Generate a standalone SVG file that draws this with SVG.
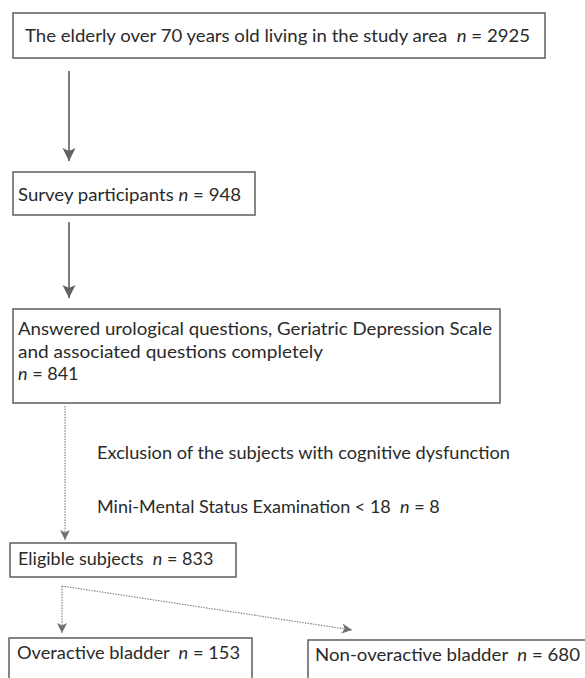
<svg xmlns="http://www.w3.org/2000/svg" width="585" height="678" viewBox="0 0 585 678">
<style>
  .box { fill: #ffffff; stroke: #5e5e5e; stroke-width: 1.5; }
  .t { font-family: Lato, "Open Sans", "Liberation Sans", sans-serif; font-size: 18px; fill: #2a2a2a; }
  .i { font-style: italic; }
  .solid { stroke: #666666; stroke-width: 1.7; fill: none; }
  .dot { stroke: #7e7e7e; stroke-width: 1.1; stroke-dasharray: 1.5 1.2; fill: none; }
</style>
<defs>
  <marker id="headBig" markerUnits="userSpaceOnUse" markerWidth="14" markerHeight="16" refX="13" refY="6.5" orient="auto">
    <path d="M0,0 L13,6.5 L0,13 L3,6.5 Z" fill="#626262"/>
  </marker>
  <marker id="headSmall" markerUnits="userSpaceOnUse" markerWidth="12" markerHeight="12" refX="10" refY="5" orient="auto">
    <path d="M0,0 L10,5 L0,10 L2.5,5 Z" fill="#707070"/>
  </marker>
</defs>
<rect width="585" height="678" fill="#ffffff"/>

<g id="connectors">
  <line class="solid" x1="69" y1="71" x2="69" y2="161" marker-end="url(#headBig)"/>
  <line class="solid" x1="69" y1="222" x2="69" y2="298" marker-end="url(#headBig)"/>
  <line class="dot" x1="65" y1="406" x2="65" y2="540" marker-end="url(#headSmall)"/>
  <line class="dot" x1="62" y1="586" x2="62" y2="633" marker-end="url(#headSmall)"/>
  <line class="dot" x1="62" y1="586" x2="352" y2="630" marker-end="url(#headSmall)"/>
</g>

<g id="node-population">
  <rect class="box" x="13" y="13" width="532" height="45"/>
  <text class="t" x="25" y="42" xml:space="preserve" textLength="505" lengthAdjust="spacingAndGlyphs">The elderly over 70 years old living in the study area  <tspan class="i">n</tspan> = 2925</text>
</g>

<g id="node-survey">
  <rect class="box" x="13" y="172" width="242" height="43"/>
  <text class="t" x="18" y="201" xml:space="preserve" textLength="223" lengthAdjust="spacingAndGlyphs">Survey participants <tspan class="i">n</tspan> = 948</text>
</g>

<g id="node-answered">
  <rect class="box" x="13" y="309" width="487" height="94"/>
  <text class="t" x="18" y="335" textLength="474" lengthAdjust="spacingAndGlyphs">Answered urological questions, Geriatric Depression Scale</text>
  <text class="t" x="18" y="358" textLength="305" lengthAdjust="spacingAndGlyphs">and associated questions completely</text>
  <text class="t" x="18" y="380" xml:space="preserve"><tspan class="i">n</tspan> = 841</text>
</g>

<g id="exclusion-note">
  <text class="t" x="97" y="459" textLength="413" lengthAdjust="spacingAndGlyphs">Exclusion of the subjects with cognitive dysfunction</text>
  <text class="t" x="97" y="513" xml:space="preserve">Mini-Mental Status Examination &lt; 18  <tspan class="i">n</tspan> = 8</text>
</g>

<g id="node-eligible">
  <rect class="box" x="10" y="543" width="226" height="34"/>
  <text class="t" x="18" y="565" xml:space="preserve">Eligible subjects  <tspan class="i">n</tspan> = 833</text>
</g>

<g id="node-oab">
  <rect class="box" x="9" y="638" width="243" height="50"/>
  <text class="t" x="17" y="659" xml:space="preserve" textLength="223" lengthAdjust="spacingAndGlyphs">Overactive bladder  <tspan class="i">n</tspan> = 153</text>
</g>

<g id="node-non-oab">
  <rect class="box" x="308" y="640" width="290" height="50"/>
  <text class="t" x="315" y="661" xml:space="preserve" textLength="265" lengthAdjust="spacingAndGlyphs">Non-overactive bladder  <tspan class="i">n</tspan> = 680</text>
</g>
</svg>
